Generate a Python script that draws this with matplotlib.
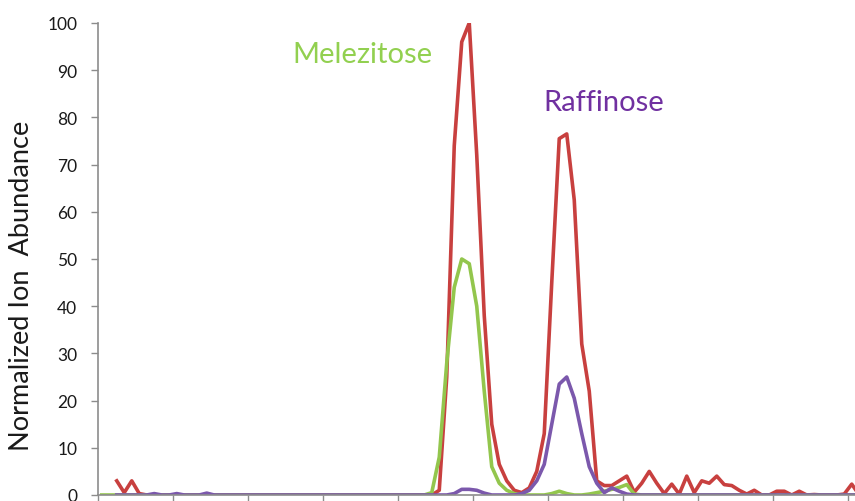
import matplotlib
matplotlib.use("Agg")
import matplotlib.pyplot as plt
import numpy as np

plt.rcParams.update({
    "font.family": ["Lato", "DejaVu Sans"],
    "axes.spines.top": False,
    "axes.spines.right": False,
})

nan = np.nan

# ---- data: normalized ion abundance per scan --------------------------------
scan = np.arange(102)

total = [nan, nan, 3, 0.5, 3, 0.3] + [0] * 39 + [
    1, 25, 74, 96, 100, 72, 38, 15, 6.5, 3, 1, 0.5,          # 45-56
    1.5, 5, 13, 45, 75.5, 76.5, 62.5, 32, 22, 3, 2, 2,       # 57-68
    3, 4, 0.6, 2.5, 5, 2.5, 0.3, 2.3, 0.2, 4, 0.5, 3,        # 69-80
    2.5, 4, 2.2, 2, 1, 0.2, 1, 0, 0, 0.8, 0.8, 0,            # 81-92
    0.8, 0, 0.1, 0, 0, 0, 0.2, 2.3, 0]                       # 93-101

melezitose = [0] * 44 + [
    0.5, 8, 28, 44, 50, 49, 40, 22, 6, 2.5, 1, 0.3,          # 44-55
    0, 0, 0, 0, 0.3, 0.8, 0.3, 0, 0, 0.2, 0.5, 0.8,          # 56-67
    1.2, 1.6, 2.2, 0.2] + [0] * 30                           # 68-101

raffinose = [nan, nan, 0, 0, 0, 0, 0, 0.3, 0, 0, 0.3, 0, 0, 0, 0.4] + [0] * 32 + [
    0.3, 1.2, 1.2, 1.0, 0.4, 0, 0, 0, 0, 0.3,                # 47-56
    1, 3, 6.5, 15, 23.5, 25, 20.5, 13, 6, 2.5,               # 57-66
    0.5, 1.5, 0.8, 0.2] + [0] * 31                           # 67-101

yticks = list(range(0, 101, 10))
xticks = np.arange(-0.5, 101, 10)

C_RED = "#C8403F"
C_GREEN = "#93C64D"
C_PURPLE = "#7B58AC"
C_AXIS = "#8C8C8C"

fig = plt.figure(figsize=(8.55, 5.02), dpi=100)
ax = fig.add_axes([98 / 855, 6 / 502, 1 - 98 / 855, 472 / 502])

ax.plot(scan, total, color=C_RED, lw=2.6)
ax.plot(scan, melezitose, color=C_GREEN, lw=2.6)
ax.plot(scan, raffinose, color=C_PURPLE, lw=2.6)

ax.set_xlim(-0.5, (855 - 101.75) / 7.5)
ax.set_ylim(0, 100)
ax.set_yticks(yticks)
ax.set_xticks(xticks)
ax.set_xticklabels([])
ax.tick_params(axis="y", length=5, width=1, color=C_AXIS, labelsize=12.5,
               labelcolor="#1a1a1a", pad=10)
ax.tick_params(axis="x", length=5, width=1, color=C_AXIS)
for side in ("left", "bottom"):
    ax.spines[side].set_color(C_AXIS)
    ax.spines[side].set_linewidth(1.2)

ax.text(34.8, 93.4, "Melezitose", color="#92D050", fontsize=21,
        ha="center", va="center")
ax.text(66.9, 83.3, "Raffinose", color="#7030A0", fontsize=21,
        ha="center", va="center")

fig.text(22 / 855, 1 - 286 / 502, "Normalized Ion  Abundance", rotation=90,
         fontsize=19.5, ha="center", va="center", color="#1a1a1a")

fig.savefig("out.png", dpi=100)
